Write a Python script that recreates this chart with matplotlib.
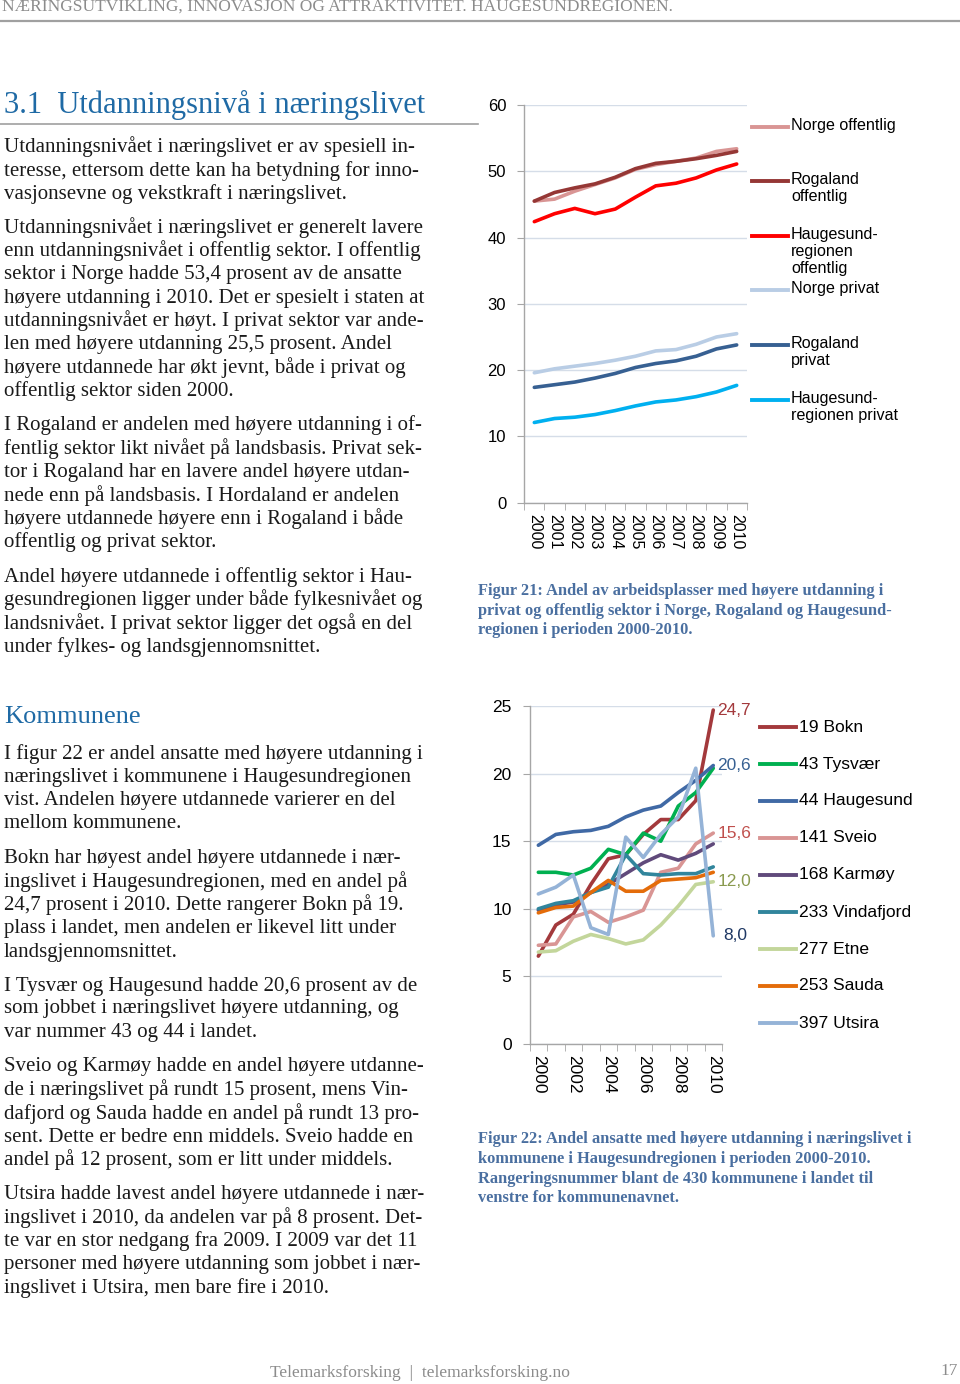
import matplotlib
matplotlib.use("Agg")
import matplotlib.pyplot as plt
from matplotlib.lines import Line2D

W, H = 960, 1384

# --- Figur 21 data ---
YEARS_21 = [str(y) for y in range(2000, 2011)]
NORGE_OFF = [45.5, 45.8, 47.0, 48.0, 49.0, 50.3, 51.0, 51.5, 52.0, 53.0, 53.4]
ROGALAND_OFF = [45.5, 46.8, 47.5, 48.1, 49.1, 50.4, 51.2, 51.5, 51.9, 52.4, 53.0]
HAUGESUND_OFF = [42.4, 43.6, 44.4, 43.6, 44.3, 46.1, 47.8, 48.2, 49.0, 50.2, 51.1]
NORGE_PRIV = [19.6, 20.2, 20.6, 21.0, 21.5, 22.1, 22.9, 23.1, 23.9, 25.0, 25.5]
ROGALAND_PRIV = [17.4, 17.8, 18.2, 18.8, 19.5, 20.4, 21.0, 21.4, 22.1, 23.2, 23.8]
HAUGESUND_PRIV = [12.1, 12.7, 12.9, 13.3, 13.9, 14.6, 15.2, 15.5, 16.0, 16.7, 17.7]

SERIES_21 = [
    ("Norge offentlig", NORGE_OFF, "#d99594"),
    ("Rogaland\noffentlig", ROGALAND_OFF, "#953735"),
    ("Haugesund-\nregionen\noffentlig", HAUGESUND_OFF, "#ff0000"),
    ("Norge privat", NORGE_PRIV, "#b9cde5"),
    ("Rogaland\nprivat", ROGALAND_PRIV, "#376092"),
    ("Haugesund-\nregionen privat", HAUGESUND_PRIV, "#00b0f0"),
]

# --- Figur 22 data ---
YEARS_22 = list(range(2000, 2011))
BOKN = [6.5, 8.8, 9.6, 11.8, 13.7, 14.0, 15.5, 16.6, 16.6, 18.0, 24.7]
TYSVAER = [12.7, 12.7, 12.5, 13.0, 14.4, 14.0, 15.6, 15.0, 17.6, 18.6, 20.4]
HAUGESUND = [14.7, 15.5, 15.7, 15.8, 16.1, 16.8, 17.3, 17.6, 18.6, 19.5, 20.6]
SVEIO = [7.3, 7.4, 9.4, 9.8, 9.0, 9.4, 9.9, 12.7, 13.0, 14.8, 15.6]
KARMOY = [9.9, 10.3, 10.5, 11.2, 11.8, 12.6, 13.4, 14.0, 13.6, 14.1, 14.8]
VINDAFJORD = [10.0, 10.4, 10.6, 11.2, 11.6, 14.0, 12.6, 12.5, 12.6, 12.6, 13.1]
ETNE = [6.8, 6.9, 7.6, 8.1, 7.8, 7.4, 7.7, 8.8, 10.2, 11.8, 12.0]
SAUDA = [9.7, 10.1, 10.2, 11.2, 12.1, 11.3, 11.3, 12.1, 12.2, 12.3, 12.7]
UTSIRA = [11.1, 11.6, 12.5, 8.6, 8.1, 15.3, 13.8, 15.5, 16.8, 20.4, 8.0]

SERIES_22 = [
    ("19 Bokn", BOKN, "#a3393c"),
    ("43 Tysvær", TYSVAER, "#00b050"),
    ("44 Haugesund", HAUGESUND, "#4069a5"),
    ("141 Sveio", SVEIO, "#d99594"),
    ("168 Karmøy", KARMOY, "#604a7b"),
    ("233 Vindafjord", VINDAFJORD, "#31859c"),
    ("277 Etne", ETNE, "#c3d69b"),
    ("253 Sauda", SAUDA, "#e46c0a"),
    ("397 Utsira", UTSIRA, "#95b3d7"),
]

END_LABELS = [("24,7", BOKN[-1], "#a3393c"), ("20,6", HAUGESUND[-1], "#376092"),
              ("15,6", SVEIO[-1], "#c0504d"), ("12,0", ETNE[-1], "#8a9a4f"),
              ("8,0", UTSIRA[-1], "#1f3864")]

LEFT_1 = [
    (147, "Utdanningsnivået i næringslivet er av spesiell in-"),
    (171, "teresse, ettersom dette kan ha betydning for inno-"),
    (194, "vasjonsevne og vekstkraft i næringslivet."),
    (228, "Utdanningsnivået i næringslivet er generelt lavere"),
    (251, "enn utdanningsnivået i offentlig sektor. I offentlig"),
    (275, "sektor i Norge hadde 53,4 prosent av de ansatte"),
    (298, "høyere utdanning i 2010. Det er spesielt i staten at"),
    (321, "utdanningsnivået er høyt. I privat sektor var ande-"),
    (345, "len med høyere utdanning 25,5 prosent. Andel"),
    (368, "høyere utdannede har økt jevnt, både i privat og"),
    (391, "offentlig sektor siden 2000."),
    (425, "I Rogaland er andelen med høyere utdanning i of-"),
    (449, "fentlig sektor likt nivået på landsbasis. Privat sek-"),
    (472, "tor i Rogaland har en lavere andel høyere utdan-"),
    (496, "nede enn på landsbasis. I Hordaland er andelen"),
    (519, "høyere utdannede høyere enn i Rogaland i både"),
    (542, "offentlig og privat sektor."),
    (577, "Andel høyere utdannede i offentlig sektor i Hau-"),
    (600, "gesundregionen ligger under både fylkesnivået og"),
    (624, "landsnivået. I privat sektor ligger det også en del"),
    (647, "under fylkes- og landsgjennomsnittet."),
]

LEFT_2 = [
    (754, "I figur 22 er andel ansatte med høyere utdanning i"),
    (778, "næringslivet i kommunene i Haugesundregionen"),
    (801, "vist. Andelen høyere utdannede varierer en del"),
    (824, "mellom kommunene."),
    (858, "Bokn har høyest andel høyere utdannede i nær-"),
    (882, "ingslivet i Haugesundregionen, med en andel på"),
    (905, "24,7 prosent i 2010. Dette rangerer Bokn på 19."),
    (928, "plass i landet, men andelen er likevel litt under"),
    (952, "landsgjennomsnittet."),
    (986, "I Tysvær og Haugesund hadde 20,6 prosent av de"),
    (1009, "som jobbet i næringslivet høyere utdanning, og"),
    (1033, "var nummer 43 og 44 i landet."),
    (1067, "Sveio og Karmøy hadde en andel høyere utdanne-"),
    (1090, "de i næringslivet på rundt 15 prosent, mens Vin-"),
    (1114, "dafjord og Sauda hadde en andel på rundt 13 pro-"),
    (1137, "sent. Dette er bedre enn middels. Sveio hadde en"),
    (1160, "andel på 12 prosent, som er litt under middels."),
    (1195, "Utsira hadde lavest andel høyere utdannede i nær-"),
    (1218, "ingslivet i 2010, da andelen var på 8 prosent. Det-"),
    (1241, "te var en stor nedgang fra 2009. I 2009 var det 11"),
    (1265, "personer med høyere utdanning som jobbet i nær-"),
    (1288, "ingslivet i Utsira, men bare fire i 2010."),
]

CAPTION_21 = [
    (591, "Figur 21: Andel av arbeidsplasser med høyere utdanning i"),
    (611, "privat og offentlig sektor i Norge, Rogaland og Haugesund-"),
    (630, "regionen i perioden 2000-2010."),
]
CAPTION_22 = [
    (1139, "Figur 22: Andel ansatte med høyere utdanning i næringslivet i"),
    (1159, "kommunene i Haugesundregionen i perioden 2000-2010."),
    (1179, "Rangeringsnummer blant de 430 kommunene i landet til"),
    (1198, "venstre for kommunenavnet."),
]

SERIF = "Liberation Serif"
SANS = "Liberation Sans"
BLUE = "#1f6aa5"
CAP_BLUE = "#4a6fa0"
GRID = "#d5dde8"


def ptext(fig, x, y, s, **kw):
    kw.setdefault("va", "center")
    return fig.text(x / W, 1 - y / H, s, **kw)


def hline(fig, x0, x1, y, color, lw):
    fig.add_artist(Line2D([x0 / W, x1 / W], [1 - y / H, 1 - y / H],
                          transform=fig.transFigure, color=color, lw=lw))


def style_axis(ax, ymax, step):
    ax.set_ylim(0, ymax)
    ax.set_yticks(range(0, ymax + 1, step))
    ax.grid(axis="y", color=GRID, lw=1.0)
    ax.set_axisbelow(True)
    for s in ["top", "right"]:
        ax.spines[s].set_visible(False)
    for s in ["left", "bottom"]:
        ax.spines[s].set_color("#a6a6a6")
        ax.spines[s].set_linewidth(1.0)
    ax.tick_params(axis="y", length=5, color="#a6a6a6", pad=8)
    ax.tick_params(axis="x", which="major", length=0)
    ax.tick_params(axis="x", which="minor", length=5, color="#a6a6a6")


fig = plt.figure(figsize=(W / 100, H / 100), dpi=100)
fig.patch.set_facecolor("white")

# header
ptext(fig, 2, 7, "NÆRINGSUTVIKLING, INNOVASJON OG ATTRAKTIVITET. HAUGESUNDREGIONEN.",
      family=SERIF, fontsize=12.5, color="#8c8c8c")
hline(fig, 0, 960, 21, "#a0a0a0", 1.6)

# section heading
ptext(fig, 4, 105, "3.1  Utdanningsnivå i næringslivet", family=SERIF, fontsize=22, color=BLUE)
hline(fig, 0, 478, 124, "#a0a0a0", 1.2)
ptext(fig, 4, 717, "Kommunene", family=SERIF, fontsize=19, color=BLUE)

for y, s in LEFT_1 + LEFT_2:
    ptext(fig, 4, y, s, family=SERIF, fontsize=15, color="#1a1a1a")
for y, s in CAPTION_21 + CAPTION_22:
    ptext(fig, 478, y, s, family=SERIF, fontsize=11.8, color=CAP_BLUE, weight="bold")

# footer
ptext(fig, 420, 1373, "Telemarksforsking  |  telemarksforsking.no", family=SERIF,
      fontsize=12.6, color="#8c8c8c", ha="center")
ptext(fig, 958, 1371, "17", family=SERIF, fontsize=12.5, color="#8c8c8c", ha="right")

# --- Figur 21 ---
ax1 = fig.add_axes([524.2 / W, 1 - 502.7 / H, 222.6 / W, 397.7 / H])
x1 = range(len(YEARS_21))
for label, vals, color in SERIES_21:
    ax1.plot(x1, vals, color=color, lw=2.6, solid_capstyle="round")
ax1.set_xlim(-0.5, len(YEARS_21) - 0.5)
style_axis(ax1, 60, 10)
ax1.set_xticks(list(x1))
ax1.set_xticklabels(YEARS_21, rotation=-90, fontsize=11.5, family=SANS)
ax1.set_xticks([i - 0.5 for i in range(len(YEARS_21) + 1)], minor=True)
ax1.tick_params(axis="x", pad=8)
for t in ax1.get_yticklabels():
    t.set_fontsize(12)
    t.set_family(SANS)

leg_y1 = [127, 181, 236, 290, 345, 400]
for (label, vals, color), y in zip(SERIES_21, leg_y1):
    hline(fig, 752, 788, y, color, 2.8)
    fig.text(791 / W, 1 - (y - 9) / H, label, family=SANS, fontsize=11.6,
             va="top", ha="left", linespacing=1.15)

# --- Figur 22 ---
ax2 = fig.add_axes([529.6 / W, 1 - 1044 / H, 192.4 / W, 338 / H])
for label, vals, color in SERIES_22:
    ax2.plot(YEARS_22, vals, color=color, lw=2.6, solid_capstyle="round")
ax2.set_xlim(YEARS_22[0] - 0.5, YEARS_22[-1] + 0.5)
style_axis(ax2, 25, 5)
ax2.set_xticks(YEARS_22[::2])
ax2.set_xticklabels([str(y) for y in YEARS_22[::2]], rotation=-90, fontsize=12.5, family=SANS)
ax2.set_xticks([y - 0.5 for y in YEARS_22] + [YEARS_22[-1] + 0.5], minor=True)
ax2.tick_params(axis="x", pad=8)
for t in ax2.get_yticklabels():
    t.set_fontsize(12.5)
    t.set_family(SANS)

for txt, v, color in END_LABELS:
    ax2.annotate(txt, (YEARS_22[-1], v), xytext=(3 if txt != "8,0" else 7, 0),
                 textcoords="offset points", va="center", ha="left",
                 fontsize=12.5, family=SANS, color=color, annotation_clip=False)

for i, (label, vals, color) in enumerate(SERIES_22):
    y = 727 + 37 * i
    hline(fig, 760, 796, y, color, 2.8)
    ptext(fig, 799, y, label, family=SANS, fontsize=12.6)

fig.savefig("out.png", dpi=100)
